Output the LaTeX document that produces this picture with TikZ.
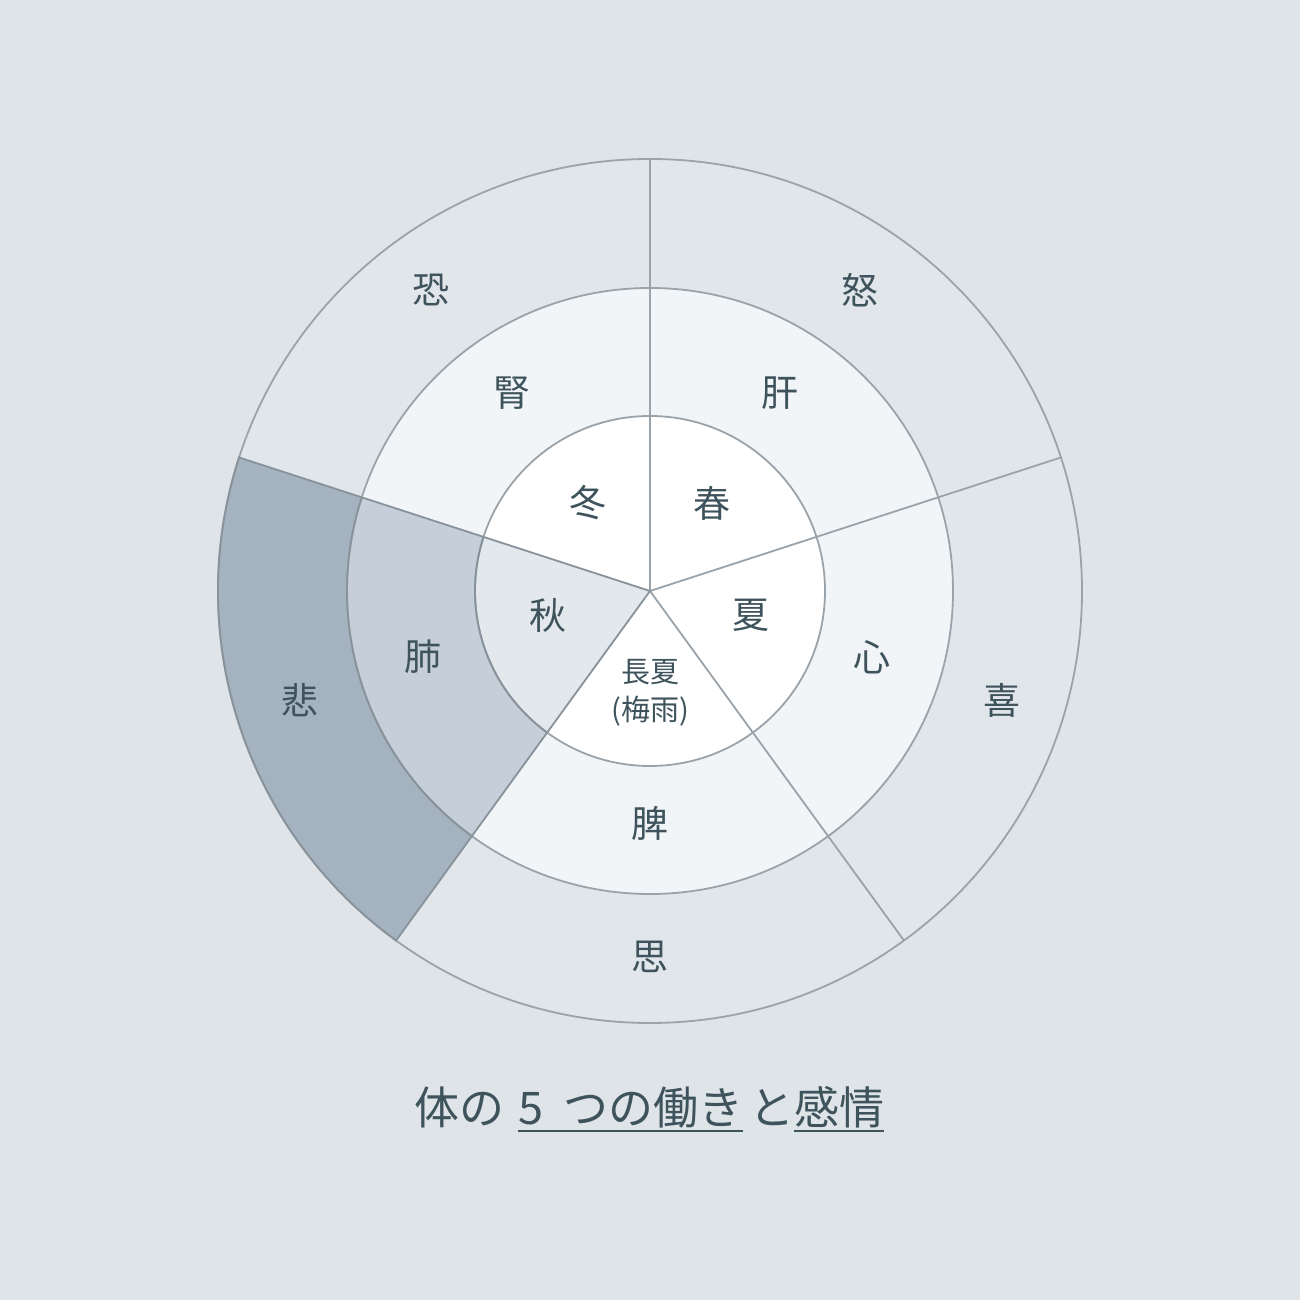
\documentclass[tikz,border=0pt]{standalone}
\usepackage{fontspec}
\newfontfamily\jp{Noto Sans CJK JP}
\definecolor{bgc}{HTML}{DFE4E8}
\definecolor{outerc}{HTML}{E1E6EA}
\definecolor{midc}{HTML}{F2F5F8}
\definecolor{innc}{HTML}{FFFFFF}
\definecolor{autin}{HTML}{E3E8EC}
\definecolor{autmid}{HTML}{C5CED9}
\definecolor{autout}{HTML}{A5B3C0}
\definecolor{linec}{HTML}{9AA3AA}
\definecolor{darkline}{HTML}{87929A}
\definecolor{txtc}{HTML}{3E535C}
\newcommand\mysect[4]{\fill[#4] (c) -- ++(#1:#3pt) arc[start angle=#1,end angle=#2,radius=#3pt] -- cycle;}
\tikzset{
  lbl/.style={font=\jp\fontsize{37}{40}\selectfont, text=txtc, inner sep=0pt},
  small/.style={font=\jp\fontsize{29}{32}\selectfont, text=txtc, inner sep=0pt},
  ttl/.style={font=\jp\fontsize{45}{50}\selectfont, text=txtc, inner sep=0pt, anchor=base west},
  ring/.style={draw=linec, line width=1.8pt},
  dring/.style={draw=darkline, line width=1.8pt},
  uline/.style={draw=txtc, line width=2pt}
}
\begin{document}
\begin{tikzpicture}[x=1pt,y=1pt]
\fill[bgc] (0,0) rectangle (1300,1300);
\coordinate (c) at (650,709);
% outer ring
\mysect{18}{90}{432}{outerc}
\mysect{90}{162}{432}{outerc}
\mysect{-54}{18}{432}{outerc}
\mysect{-126}{-54}{432}{outerc}
\mysect{162}{234}{432}{autout}
% middle ring
\mysect{18}{90}{303}{midc}
\mysect{90}{162}{303}{midc}
\mysect{-54}{18}{303}{midc}
\mysect{-126}{-54}{303}{midc}
\mysect{162}{234}{303}{autmid}
% inner
\mysect{18}{90}{175}{innc}
\mysect{90}{162}{175}{innc}
\mysect{-54}{18}{175}{innc}
\mysect{-126}{-54}{175}{innc}
\mysect{162}{234}{175}{autin}
% circles and spokes
\draw[ring] (c) circle[radius=432pt];
\draw[ring] (c) circle[radius=303pt];
\draw[ring] (c) circle[radius=175pt];
\foreach \a in {90,18,-54} \draw[ring] (c) -- ++(\a:432pt);
% darker outline of the autumn sector
\draw[dring] (c) -- ++(162:432pt) arc[start angle=162,end angle=234,radius=432pt] -- cycle;
\draw[dring] (c) ++(162:303pt) arc[start angle=162,end angle=234,radius=303pt];
\draw[dring] (c) ++(162:175pt) arc[start angle=162,end angle=234,radius=175pt];
% labels
\node[lbl] (kyo) at (431,1010) {恐};
\node[lbl] (do) at (860,1010) {怒};
\node[lbl] (jin) at (512,907) {腎};
\node[lbl] (kan) at (780,907) {肝};
\node[lbl] (fuyu) at (588,797) {冬};
\node[lbl] (haru) at (712,797) {春};
\node[lbl] (aki) at (548,685) {秋};
\node[lbl] (natsu) at (751,685) {夏};
\node[lbl] (hai) at (423,643) {肺};
\node[lbl] (shin) at (872,643) {心};
\node[lbl] (hi) at (300,600) {悲};
\node[lbl] (ki) at (1002,600) {喜};
\node[small] (doyo) at (650,628) {長夏};
\node[small] (tsuyu) at (650,589) {(梅雨)};
\node[lbl] (hiz) at (650,477) {脾};
\node[lbl] (shi) at (650,343) {思};
% title
\node[ttl] (t1) at (414,175) {体の};
\node[ttl] (t2) at (518,175) {5\hspace{20pt}つの働き};
\node[ttl] (t3) at (749,175) {と};
\node[ttl] (t4) at (794,175) {感情};
\draw[uline] ([yshift=-6pt]t2.base west) -- ([yshift=-6pt]t2.base east);
\draw[uline] ([yshift=-6pt]t4.base west) -- ([yshift=-6pt]t4.base east);
\end{tikzpicture}
\end{document}
